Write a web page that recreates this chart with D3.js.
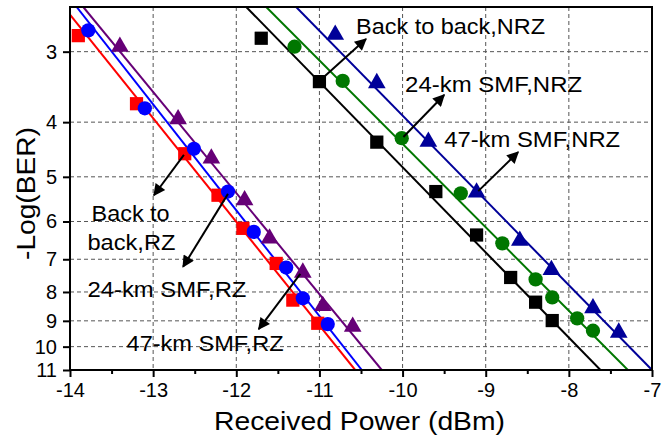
<!DOCTYPE html>
<html>
<head>
<meta charset="utf-8">
<script src="https://cdn.jsdelivr.net/npm/d3@7"></script>
<style>
  body { margin: 0; background: #fff; }
  svg { display: block; font-family: "Liberation Sans", Arial, sans-serif; }
</style>
</head>
<body>
<div id="chart"></div>
<script>
// received power (dBm) and -log(BER)
const rzB2bX = [-13.90, -13.20, -12.62, -12.22, -11.92, -11.52, -11.32, -11.02];
const rzB2bV = [2.81, 3.71, 4.55, 5.39, 6.17, 7.12, 8.27, 9.09];
const rz24X = [-13.78, -13.10, -12.51, -12.10, -11.79, -11.40, -11.20, -10.90];
const rz24V = [2.75, 3.78, 4.46, 5.31, 6.26, 7.24, 8.21, 9.12];
const rz47X = [-13.40, -12.70, -12.30, -11.90, -11.60, -11.20, -10.96, -10.60];
const rz47V = [2.94, 3.95, 4.64, 5.50, 6.43, 7.39, 8.47, 9.22];
const nrzB2bX = [-11.70, -11.00, -10.31, -9.60, -9.11, -8.70, -8.40, -8.20];
const nrzB2bV = [2.84, 3.39, 4.34, 5.31, 6.34, 7.54, 8.34, 8.99];
const nrz24X = [-11.30, -10.72, -10.01, -9.30, -8.80, -8.40, -8.20, -7.90, -7.71];
const nrz24V = [2.94, 3.38, 4.27, 5.35, 6.56, 7.60, 8.18, 8.91, 9.37];
const nrz47X = [-10.81, -10.31, -9.69, -9.11, -8.59, -8.21, -7.71, -7.40];
const nrz47V = [2.80, 3.41, 4.33, 5.33, 6.49, 7.31, 8.55, 9.44];

// fitted lines, end points
const fitRzB2bX = [-14.0, -10.57], fitRzB2bV = [2.58, 11];
const fitRz24X = [-13.92, -10.49], fitRz24V = [2.5, 11];
const fitRz47X = [-13.84, -10.25], fitRz47V = [2.5, 11];
const fitNrzB2bX = [-11.88, -7.62], fitNrzB2bV = [2.5, 11];
const fitNrz24X = [-11.64, -7.29], fitNrz24V = [2.5, 11];
const fitNrz47X = [-11.28, -7.0], fitNrz47V = [2.5, 11];

const xTicks = [-14, -13, -12, -11, -10, -9, -8, -7];
const xMinor = [-13.5, -12.5, -11.5, -10.5, -9.5, -8.5, -7.5];
const yTicks = [3, 4, 5, 6, 7, 8, 9, 10, 11];

const W = 665, H = 443;
const x = d3.scaleLinear().domain([-14, -7]).range([70, 652]);
const y = d3.scaleLog().domain([2.5, 11]).range([7, 370]);

const series = [
  { xs: rzB2bX, vs: rzB2bV, fx: fitRzB2bX, fv: fitRzB2bV, color: "#ff0000", sym: d3.symbolSquare, size: 175 },
  { xs: rz24X, vs: rz24V, fx: fitRz24X, fv: fitRz24V, color: "#0000ff", sym: d3.symbolCircle, size: 160 },
  { xs: rz47X, vs: rz47V, fx: fitRz47X, fv: fitRz47V, color: "#660077", sym: d3.symbolTriangle, size: 135 },
  { xs: nrzB2bX, vs: nrzB2bV, fx: fitNrzB2bX, fv: fitNrzB2bV, color: "#000000", sym: d3.symbolSquare, size: 175 },
  { xs: nrz24X, vs: nrz24V, fx: fitNrz24X, fv: fitNrz24V, color: "#007700", sym: d3.symbolCircle, size: 160 },
  { xs: nrz47X, vs: nrz47V, fx: fitNrz47X, fv: fitNrz47V, color: "#000099", sym: d3.symbolTriangle, size: 135 }
];

// labels: text, left x (dBm), baseline (-log BER), stretched width
const notes = [
  { t: "Back to back,NRZ", x: -10.56, v: 2.79, w: 189 },
  { t: "24-km SMF,NRZ", x: -9.97, v: 3.53, w: 177 },
  { t: "47-km SMF,NRZ", x: -9.50, v: 4.43, w: 176 },
  { t: "Back to", x: -13.74, v: 5.98, w: 78 },
  { t: "back,RZ", x: -13.79, v: 6.74, w: 88 },
  { t: "24-km SMF,RZ", x: -13.79, v: 8.16, w: 159 },
  { t: "47-km SMF,RZ", x: -13.32, v: 10.18, w: 157 }
];
// arrows: from [x, v] to [x, v]
const arrows = [
  [[-10.97, 3.35], [-10.44, 2.85]],
  [[-9.99, 4.25], [-9.50, 3.58]],
  [[-9.09, 5.30], [-8.61, 4.52]],
  [[-12.63, 4.57], [-12.99, 5.39]],
  [[-12.10, 5.36], [-12.64, 7.22]],
  [[-11.23, 7.43], [-11.73, 9.31]]
];

const svg = d3.select("#chart").append("svg")
  .attr("width", W).attr("height", H);
svg.append("rect").attr("width", W).attr("height", H).attr("fill", "#fff");

const [x0, x1] = x.range();
const [y0, y1] = y.range();

svg.append("defs").append("clipPath").attr("id", "plot")
  .append("rect").attr("x", x0).attr("y", y0).attr("width", x1 - x0).attr("height", y1 - y0);

// grid
const grid = svg.append("g").attr("stroke", "#555").attr("stroke-width", 1).attr("stroke-dasharray", "4,3");
grid.selectAll("line.gx").data(xTicks.slice(1, -1)).enter().append("line")
  .attr("x1", d => x(d)).attr("x2", d => x(d)).attr("y1", y0).attr("y2", y1);
grid.selectAll("line.gy").data(yTicks.slice(0, -1)).enter().append("line")
  .attr("x1", x0).attr("x2", x1).attr("y1", d => y(d)).attr("y2", d => y(d));

// fitted lines
const line = d3.line().x(d => x(d[0])).y(d => y(d[1]));
const plot = svg.append("g").attr("clip-path", "url(#plot)");
series.forEach(s => {
  plot.append("path")
    .attr("d", line(d3.zip(s.fx, s.fv)))
    .attr("fill", "none").attr("stroke", s.color).attr("stroke-width", 2);
});

// markers
series.forEach(s => {
  svg.append("g").selectAll("path")
    .data(d3.zip(s.xs, s.vs))
    .enter().append("path")
    .attr("transform", d => `translate(${x(d[0])},${y(d[1])})`)
    .attr("d", d3.symbol().type(s.sym).size(s.size))
    .attr("fill", s.color);
});

// axes
const xAxis = svg.append("g").attr("transform", `translate(0,${y1})`)
  .call(d3.axisBottom(x).tickValues(xTicks).tickSize(7).tickSizeOuter(0).tickPadding(6));
svg.append("g").attr("transform", `translate(0,${y1})`)
  .call(d3.axisBottom(x).tickValues(xMinor).tickSize(4).tickFormat(""))
  .call(g => g.select(".domain").remove());
const yAxis = svg.append("g").attr("transform", `translate(${x0},0)`)
  .call(d3.axisLeft(y).tickValues(yTicks).tickFormat(d3.format("d")).tickSize(7).tickSizeOuter(0).tickPadding(6));
svg.selectAll(".domain").remove();
svg.selectAll(".tick line").attr("stroke", "#000").attr("stroke-width", 2);
xAxis.selectAll("text").attr("font-size", 20).attr("font-family", "Liberation Sans, Arial, sans-serif").attr("fill", "#000").attr("dy", "0.71em");
yAxis.selectAll("text").attr("font-size", 20).attr("font-family", "Liberation Sans, Arial, sans-serif").attr("fill", "#000");
xAxis.selectAll(".tick text").text(d => "-" + Math.abs(d));

svg.append("rect")
  .attr("x", x0).attr("y", y0).attr("width", x1 - x0).attr("height", y1 - y0)
  .attr("fill", "none").attr("stroke", "#000").attr("stroke-width", 2);

// axis titles
svg.append("text")
  .attr("x", 214).attr("y", 430)
  .attr("font-size", 25).attr("textLength", 291).attr("lengthAdjust", "spacingAndGlyphs")
  .text("Received Power (dBm)");
svg.append("text")
  .attr("transform", "translate(35,260) rotate(-90)")
  .attr("font-size", 25).attr("textLength", 133).attr("lengthAdjust", "spacingAndGlyphs")
  .text("-Log(BER)");

// annotations
svg.append("defs").append("marker")
  .attr("id", "head").attr("viewBox", "0 0 10 10").attr("refX", 9).attr("refY", 5)
  .attr("markerWidth", 7).attr("markerHeight", 6).attr("markerUnits", "strokeWidth")
  .attr("orient", "auto")
  .append("path").attr("d", "M0,0L10,5L0,10z").attr("fill", "#000");

svg.append("g").selectAll("line").data(arrows).enter().append("line")
  .attr("x1", d => x(d[0][0])).attr("y1", d => y(d[0][1]))
  .attr("x2", d => x(d[1][0])).attr("y2", d => y(d[1][1]))
  .attr("stroke", "#000").attr("stroke-width", 2).attr("marker-end", "url(#head)");

svg.append("g").selectAll("text").data(notes).enter().append("text")
  .attr("x", d => x(d.x)).attr("y", d => y(d.v))
  .attr("font-size", 22).attr("textLength", d => d.w).attr("lengthAdjust", "spacingAndGlyphs")
  .text(d => d.t);
</script>
</body>
</html>
